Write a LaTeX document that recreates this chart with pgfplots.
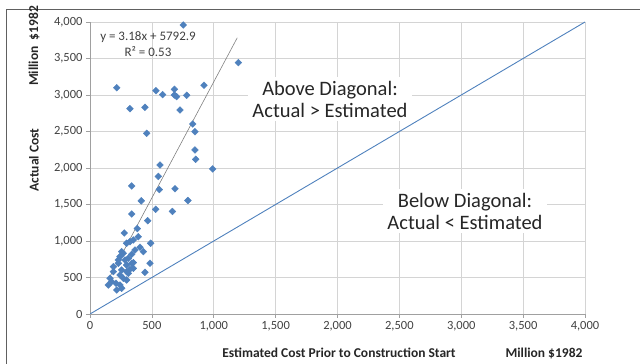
\documentclass[border=0pt]{standalone}
\usepackage{pgfplots}
\pgfplotsset{compat=1.18}
\usepackage{fontspec}
\setmainfont{Carlito}
\definecolor{xlblue}{HTML}{4F81BD}
\definecolor{gridc}{HTML}{D4D4D4}
\definecolor{axc}{HTML}{A0A0A0}
\definecolor{txt}{HTML}{404040}
\definecolor{framec}{HTML}{606060}
\begin{document}
\begin{tikzpicture}
\path[use as bounding box] (0pt,0pt) rectangle (640pt,364pt);
\begin{axis}[
  at={(90pt,50pt)}, anchor=south west,
  scale only axis, width=495pt, height=292pt,
  xmin=0, xmax=4000, ymin=0, ymax=4000,
  xtick={0,500,...,4000}, ytick={0,500,...,4000},
  axis lines=left, axis line style={-, color=axc, line width=0.7pt},
  grid=major, grid style={gridc, line width=0.7pt},
  tick style={color=axc, line width=0.7pt}, tick align=outside, major tick length=4pt,
  /pgf/number format/1000 sep={,},
  /pgf/number format/assume math mode=true,
  ticklabel style={font=\fontsize{12.5}{14}\selectfont, color=txt},
]
\addplot[only marks, mark=square*, mark size=2.4pt, color=xlblue,
  mark options={rotate=45, fill=xlblue, draw=xlblue}] table {
x y
754 3959
1199 3443
216 3100
533 3059
587 3005
682 3078
682 3000
700 2977
781 2996
921 3133
323 2813
444 2831
727 2795
830 2603
458 2475
848 2497
848 2247
854 2119
991 1987
566 2041
552 1885
337 1754
560 1705
687 1715
414 1550
791 1555
531 1434
666 1405
337 1370
466 1278
382 1170
277 1110
390 1059
350 1014
296 969
490 969
404 914
256 854
431 854
337 818
242 785
283 740
350 703
229 695
296 671
485 695
189 648
323 612
256 603
444 571
310 557
162 489
296 466
210 421
148 397
216 329
256 352
189 580
269 489
242 534
310 763
364 877
337 695
269 832
323 991
229 740
296 580
350 626
175 443
242 397
};
\addplot[xlblue, line width=0.9pt] coordinates {(0,0) (4000,4000)};
\addplot[gray, line width=0.6pt] coordinates {(160,509) (1190,3784)};
\end{axis}
\draw[draw=framec, line width=1.2pt] (6.5pt,0pt) -- (6.5pt,354.5pt) -- (640pt,354.5pt);
\node[font=\fontsize{13}{15}\selectfont, text=txt] at (148pt,327pt) {y = 3.18x + 5792.9};
\node[font=\fontsize{13}{15}\selectfont, text=txt] at (148pt,312pt) {R² = 0.53};
\node[fill=white, align=center, inner sep=4pt, font=\fontsize{20.5}{22}\selectfont, text=black!85] at (330pt,265pt) {Above Diagonal:\\Actual > Estimated};
\node[fill=white, align=center, inner sep=4pt, font=\fontsize{20.5}{22}\selectfont, text=black!85] at (465pt,153pt) {Below Diagonal:\\Actual < Estimated};
\node[rotate=90, font=\bfseries\fontsize{13.5}{15}\selectfont, text=black!85] at (34pt,318pt) {Million\ \ \$1982};
\node[rotate=90, font=\bfseries\fontsize{13.5}{15}\selectfont, text=black!85] at (34pt,204pt) {Actual Cost};
\node[font=\bfseries\fontsize{13.5}{15}\selectfont, text=black!85] at (339pt,11pt) {Estimated Cost Prior to Construction Start};
\node[font=\bfseries\fontsize{13.5}{15}\selectfont, text=black!85] at (544pt,11pt) {Million \$1982};
\end{tikzpicture}
\end{document}
